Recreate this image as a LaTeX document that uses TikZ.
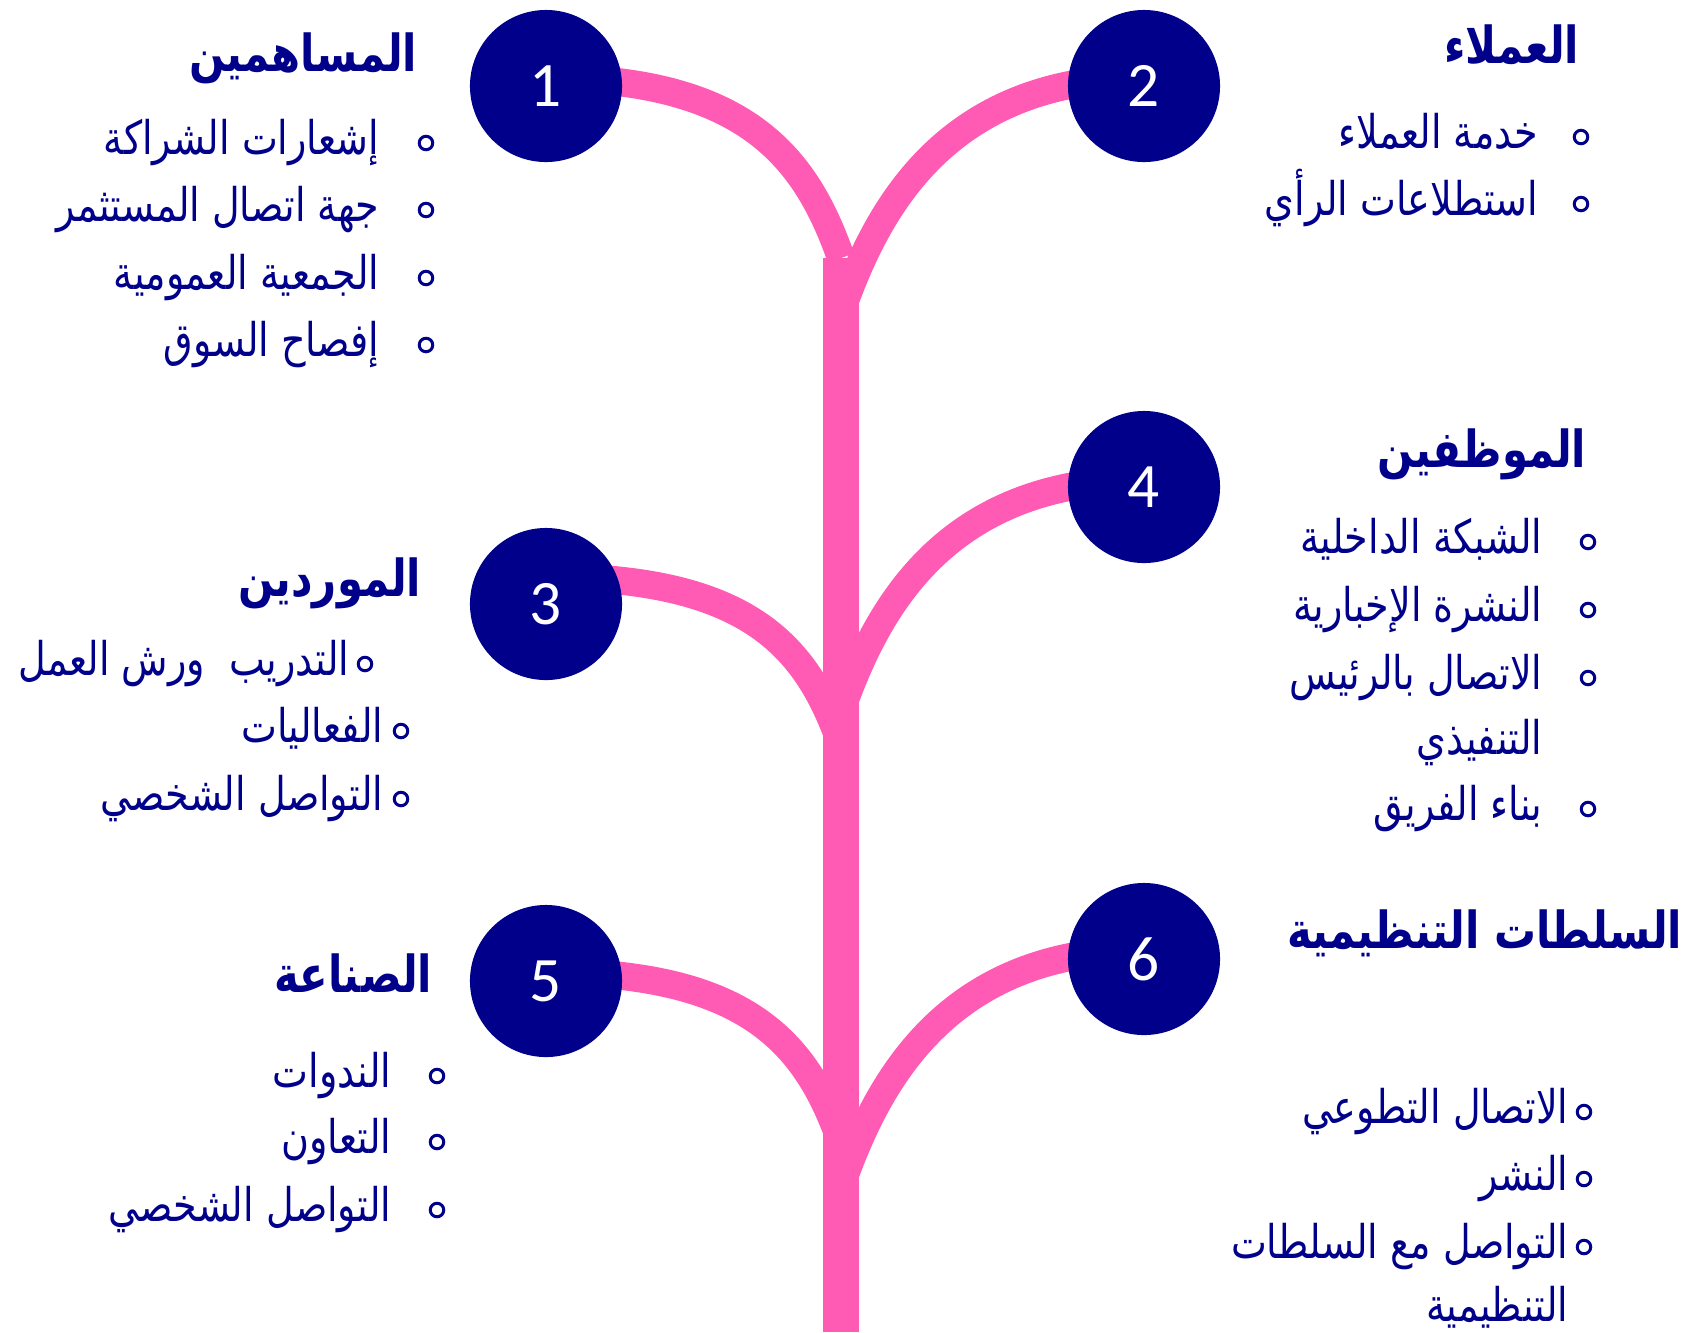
\documentclass[tikz,border=0pt]{standalone}
\usepackage{fontspec}
\newfontfamily\arabicfont[Script=Arabic,FakeStretch=0.82]{DejaVu Sans}
\newfontfamily\numfont{Carlito}
\TeXXeTstate=1
\usetikzlibrary{backgrounds}
\definecolor{navy}{RGB}{0,0,139}
\definecolor{rose}{RGB}{255,90,180}
\newcommand{\ar}[1]{\beginR #1\endR}
\begin{document}
\begin{tikzpicture}[x=0.01cm,y=-0.01cm,
  circ/.style={circle,fill=navy,minimum size=1.52cm,inner sep=0,text=white,font=\numfont\fontsize{18}{21}\selectfont},
  branch/.style={rose,line width=0.28cm},
  trunk/.style={rose,line width=0.36cm},
  hd/.style={anchor=base east,inner sep=0,text=navy,font=\arabicfont\bfseries\fontsize{14.5}{18}\selectfont},
  itm/.style={anchor=base east,yshift=-0.11cm,inner sep=0,text=navy,font=\arabicfont\fontsize{13.2}{16}\selectfont},
  bul/.style={circle,draw=navy,line width=0.03cm,minimum size=0.135cm,inner sep=0}]
\useasboundingbox (0,0) rectangle (1690,1332);
%circles
\foreach \n/\x/\y in {1/546/86,2/1144/86,3/546/604,4/1144/487,5/546/981,6/1144/959}
  \node[circ] (n\n) at (\x,\y) {\n};
%joints on the trunk
\coordinate (j1) at (841,258);
\coordinate (j2) at (841,312);
\coordinate (j3) at (841,744);
\coordinate (j4) at (841,711);
\coordinate (j5) at (841,1142);
\coordinate (j6) at (841,1186);
\coordinate (bot) at (841,1332);
%trunk and branches
\begin{pgfonlayer}{background}
\draw[trunk] (j1)--(bot);
\foreach \n/\dy/\s in {1/-8/1,3/-27/1,5/-9/1,2/-8/-1,4/-7/-1,6/-9/-1}
  \draw[branch] ([shift={(0,\dy)}]n\n.center) .. controls +(\s*200,0) and +(-\s*35,-100) .. (j\n);
\end{pgfonlayer}
%group 1
\node[hd] (h1) at (418,71) {\ar{المساهمين}};
\foreach \y/\lbl [count=\i] in {143/إشعارات الشراكة,210/جهة اتصال المستثمر,278/الجمعية العمومية,345/إفصاح السوق}{
  \node[bul] (b1\i) at (426,\y) {};
  \node[itm] (t1\i) at (380,\y) {\ar{\lbl}};}
%group 2
\node[hd] (h2) at (1580,63) {\ar{العملاء}};
\foreach \y/\lbl [count=\i] in {137/خدمة العملاء,204/استطلاعات الرأي}{
  \node[bul] (b2\i) at (1581,\y) {};
  \node[itm] (t2\i) at (1539,\y) {\ar{\lbl}};}
%group 3
\node[hd] (h3) at (422,596) {\ar{الموردين}};
\node[bul] (b31) at (365,664) {};
\node[itm] (t31) at (350,664) {\ar{التدريب\ \ ورش العمل}};
\foreach \y/\lbl [count=\i from 2] in {731/الفعاليات,799/التواصل الشخصي}{
  \node[bul] (b3\i) at (401,\y) {};
  \node[itm] (t3\i) at (384,\y) {\ar{\lbl}};}
%group 4
\node[hd] (h4) at (1587,467) {\ar{الموظفين}};
\foreach \y/\lbl [count=\i] in {542/الشبكة الداخلية,610/النشرة الإخبارية,678/الاتصال بالرئيس,809/بناء الفريق}{
  \node[bul] (b4\i) at (1588,\y) {};
  \node[itm] (t4\i) at (1543,\y) {\ar{\lbl}};}
\node[itm] (t4c) at (1543,743) {\ar{التنفيذي}};
%group 5
\node[hd] (h5) at (433,992) {\ar{الصناعة}};
\foreach \y/\lbl [count=\i] in {1076/الندوات,1142/التعاون,1210/التواصل الشخصي}{
  \node[bul] (b5\i) at (437,\y) {};
  \node[itm] (t5\i) at (392,\y) {\ar{\lbl}};}
%group 6
\node[hd] (h6) at (1683,948) {\ar{السلطات التنظيمية}};
\foreach \y/\lbl [count=\i] in {1112/الاتصال التطوعي,1179/النشر,1247/التواصل مع السلطات}{
  \node[bul] (b6\i) at (1584,\y) {};
  \node[itm] (t6\i) at (1569,\y) {\ar{\lbl}};}
\node[itm] (t6c) at (1569,1310) {\ar{التنظيمية}};
\end{tikzpicture}
\end{document}
